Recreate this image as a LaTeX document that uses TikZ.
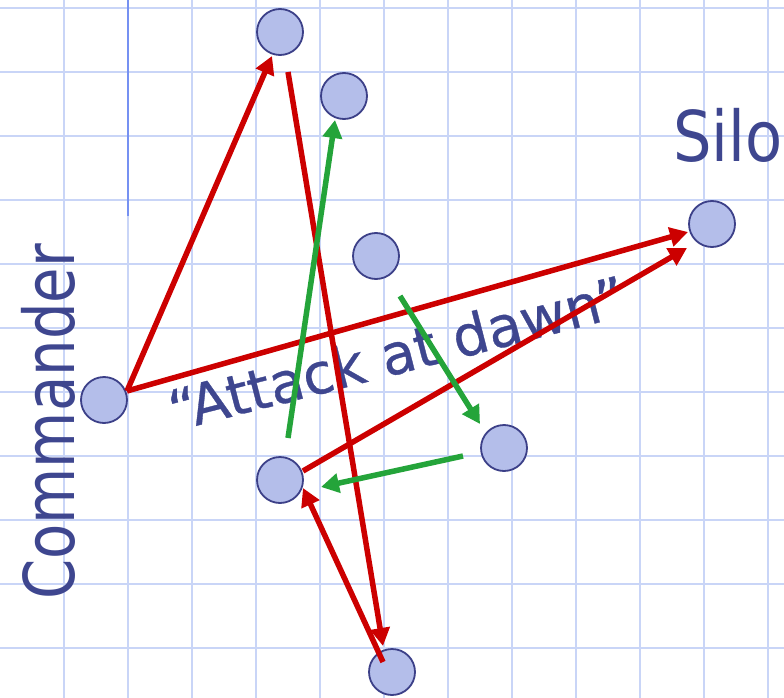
\documentclass[tikz,border=0pt]{standalone}
\usepackage{fontspec}
\newfontfamily\dvfont{DejaVu Sans}
\usetikzlibrary{arrows.meta}
\definecolor{gridblue}{RGB}{201,213,247}
\definecolor{darkline}{RGB}{118,145,242}
\definecolor{txtblue}{RGB}{62,70,143}
\definecolor{nodefill}{RGB}{180,190,234}
\definecolor{nodeedge}{RGB}{60,64,136}
\definecolor{redarr}{RGB}{204,0,0}
\definecolor{greenarr}{RGB}{36,164,58}
\tikzset{
  gridline/.style={draw=gridblue, line width=2pt},
  station/.style={circle, draw=nodeedge, fill=nodefill, line width=1.8pt, minimum size=46pt, inner sep=0pt},
  redarrow/.style={draw=redarr, line width=5.5pt, -{Triangle[length=18pt,width=19pt]}},
  greenarrow/.style={draw=greenarr, line width=5.5pt, -{Triangle[length=18pt,width=19pt]}},
  lbl/.style={text=txtblue, inner sep=0pt, font=\dvfont}
}
\begin{document}
\begin{tikzpicture}[x=1pt,y=-1pt]
\useasboundingbox (0,0) rectangle (784,698);
\fill[white] (0,0) rectangle (784,698);
% grid
\foreach \gx in {64,128,...,768} \draw[gridline] (\gx,0) -- (\gx,698);
\foreach \gy in {8,72,...,648} \draw[gridline] (0,\gy) -- (784,\gy);
\draw[draw=darkline, line width=2pt] (128,0) -- (128,216);
% labels
\node[lbl, rotate=90, anchor=base] (lblCmd) at (74,422) {\fontsize{70}{84}\selectfont\scalebox{0.824}[1]{Commander}};
\node[lbl, anchor=base west] (lblSilo) at (673,161) {\fontsize{70}{84}\selectfont\scalebox{0.867}[1]{Silo}};
\node[lbl, rotate=14.4, anchor=base] (lblMsg) at (402,373) {\fontsize{56}{66}\selectfont\addfontfeature{FakeBold=0.6}“Attack at dawn”};
% stations
\node[station] (cmd) at (104,400) {};
\node[station] (silo) at (712,224) {};
\node[station] (a) at (280,32) {};
\node[station] (b) at (344,96) {};
\node[station] (c) at (376,256) {};
\node[station] (d) at (280,480) {};
\node[station] (e) at (504,448) {};
\node[station] (f) at (392,672) {};
% red arrows
\draw[redarrow] ([shift={(23,-9)}]cmd.center) -- ([shift={(-8,24)}]a.center);
\draw[redarrow] ([shift={(8,40)}]a.center) -- ([shift={(-9,-26)}]f.center);
\draw[redarrow] ([shift={(23,-9)}]cmd.center) -- ([shift={(-24,8)}]silo.center);
\draw[redarrow] ([shift={(23,-9)}]d.center) -- ([shift={(-25,24)}]silo.center);
\draw[redarrow] ([shift={(-9,-10)}]f.center) -- ([shift={(23,8)}]d.center);
% green arrows
\draw[greenarrow] ([shift={(8,-42)}]d.center) -- ([shift={(-9,24)}]b.center);
\draw[greenarrow] ([shift={(24,40)}]c.center) -- ([shift={(-24,-24)}]e.center);
\draw[greenarrow] ([shift={(-41,8)}]e.center) -- ([shift={(41,7)}]d.center);
\end{tikzpicture}
\end{document}
